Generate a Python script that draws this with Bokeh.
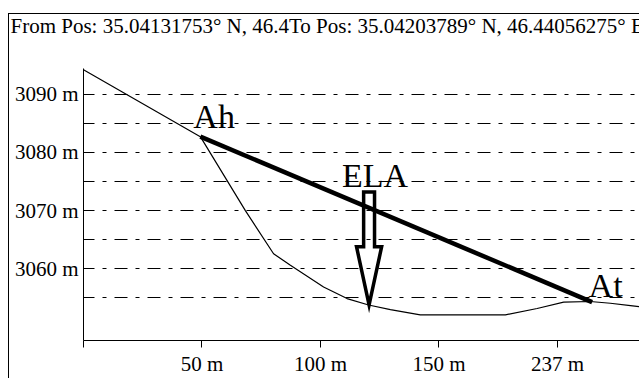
from bokeh.plotting import figure
from bokeh.models import Range1d, FixedTicker, InlineStyleSheet
from bokeh.core.properties import value
from bokeh.embed import file_html
from bokeh.resources import INLINE

# Terrain profile along the transect (distance in m, elevation in m a.s.l.)
dist_m = [0, 49.3, 68.3, 80.2, 87.3, 101.3, 111.2, 120.3, 129.5, 142.1,
          178.0, 191.4, 202.6, 213.8, 222.3, 230.8, 237.0]
elev_m = [3094.2, 3082.7, 3070.0, 3062.6, 3060.6, 3056.9, 3054.9, 3053.8,
          3053.0, 3052.1, 3052.1, 3053.2, 3054.3, 3054.4, 3054.1, 3053.7, 3053.4]

# Glacier head (Ah) and toe (At)
ah_dist, ah_elev = 49.3, 3082.7
at_dist, at_elev = 214.6, 3054.3

# Equilibrium-line arrow: top of shaft and tip on the surface
ela_dist = 120.5
ela_top_elev = 3073.2
ela_tip_elev = 3053.8

point_names = ["Ah", "ELA", "At"]

title_text = "From Pos: 35.04131753° N, 46.4To Pos: 35.04203789° N, 46.44056275° E"

y_ticks = [3060, 3070, 3080, 3090]
y_minor = [3055, 3065, 3075, 3085]
x_ticks = [0, 50, 100, 150, 200]
x_tick_labels = ["", "50 m", "100 m", "150 m", "237 m"]

SERIF = "Liberation Serif"

p = figure(width=639, height=378, output_backend="svg", toolbar_location=None,
           x_range=Range1d(0, 234.6), y_range=Range1d(3047.7, 3094.4),
           min_border_left=83, min_border_right=0, min_border_top=68,
           min_border_bottom=36)
p.outline_line_color = None
p.background_fill_alpha = 0
p.border_fill_alpha = 0

# thin frame lines round the whole panel (left and top edges)
p.stylesheets = [InlineStyleSheet(css=""":host {
  background:
    linear-gradient(#000, #000) 8px 13px / 1px 100% no-repeat,
    linear-gradient(#000, #000) 8px 13px / 100% 1px no-repeat,
    #fff;
}""")]

# header line with the transect end points; an empty second line keeps
# it clear of the plotting area
p.title.text = title_text + "\n"
p.title.align = "left"
p.title.vertical_align = "top"
p.title.offset = -73
p.title.standoff = 10
p.title.text_font = SERIF
p.title.text_font_size = "21px"
p.title.text_font_style = "normal"
p.title.text_color = "black"

# axes
p.xaxis.ticker = FixedTicker(ticks=x_ticks, minor_ticks=[])
p.xaxis.major_label_overrides = {t: l for t, l in zip(x_ticks, x_tick_labels)}
p.yaxis.ticker = FixedTicker(ticks=y_ticks, minor_ticks=y_minor)
p.yaxis.major_label_overrides = {t: f"{t} m" for t in y_ticks}
for ax in (p.xaxis[0], p.yaxis[0]):
    ax.axis_line_color = "black"
    ax.major_label_text_font = SERIF
    ax.major_label_text_font_size = "21px"
    ax.major_label_text_color = "black"
    ax.minor_tick_in = 0
    ax.minor_tick_out = 0
p.xaxis.major_tick_in = 0
p.xaxis.major_tick_out = 7
p.xaxis.major_tick_line_color = "black"
p.xaxis.major_label_standoff = 4
p.yaxis.major_tick_in = 0
p.yaxis.major_tick_out = 0
p.yaxis.major_label_standoff = 5

# dash-dot grid at every 5 m
p.xgrid.visible = False
p.ygrid.grid_line_color = "black"
p.ygrid.grid_line_dash = "13 8 4 8"
p.ygrid.grid_line_dash_offset = 2
p.ygrid.minor_grid_line_color = "black"
p.ygrid.minor_grid_line_dash = "13 8 4 8"
p.ygrid.minor_grid_line_dash_offset = 2

# surface profile
p.line(dist_m, elev_m, line_color="black", line_width=1.2)

# Ah - At glacier line
p.line([ah_dist, at_dist], [ah_elev, at_elev], line_color="black", line_width=4.5)

# ELA block arrow
shaft_half = 2.3
head_half = 5.3
head_len = 10.0
head_base = ela_tip_elev + head_len
arrow_x = [ela_dist - shaft_half, ela_dist + shaft_half, ela_dist + shaft_half,
           ela_dist + head_half, ela_dist, ela_dist - head_half, ela_dist - shaft_half]
arrow_y = [ela_top_elev, ela_top_elev, head_base, head_base, ela_tip_elev,
           head_base, head_base]
p.patch(arrow_x, arrow_y, fill_alpha=0, line_color="black", line_width=3.5,
        line_join="miter")

# point labels
p.text([ah_dist], [ah_elev], text=[point_names[0]], text_font=value(SERIF),
       text_font_size="34px", text_color="black", text_align="left",
       text_baseline="alphabetic", x_offset=-7, y_offset=-20)
p.text([ela_dist], [ela_top_elev], text=[point_names[1]], text_font=value(SERIF),
       text_font_size="34px", text_color="black", text_align="center",
       text_baseline="alphabetic", x_offset=6, y_offset=-16)
p.text([at_dist], [at_elev], text=[point_names[2]], text_font=value(SERIF),
       text_font_size="34px", text_color="black", text_align="left",
       text_baseline="alphabetic", x_offset=-3.5, y_offset=-17)

open("out.html", "w").write(file_html(p, INLINE))
